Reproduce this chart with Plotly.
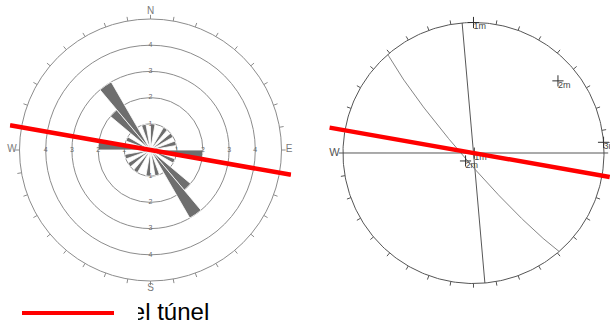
import numpy as np
import plotly.graph_objects as go

# ---------------- data ----------------
# Rose diagram (bidirectional strike frequencies, 10 degree bins)
rose_bin_centers = [5, 35, 55, 75, 95, 115, 135, 145, 165,
                    185, 215, 235, 255, 275, 295, 315, 325, 345]
rose_counts = [1, 1, 1, 1, 2, 1, 2, 3, 1,
               1, 1, 1, 1, 2, 1, 2, 3, 1]
rose_bin_width = 10
rose_ring_values = [1, 2, 3, 4]
rose_outer_value = 5
rose_label_azimuths = [0, 90, 180, 270]
compass_ticks = list(range(0, 360, 10))
rose_compass_az = [0, 90, 180, 270]
rose_compass_text = ["N", "E", "S", "W"]
stereo_compass_az = [0, 180, 270]
stereo_compass_text = ["N", "S", "W"]

# Tunnel axis (trend, degrees) and drawn extent on each diagram
tunnel_trend = 100
tunnel_extent_rose = [5.45, 5.45]        # rose radial units (W end, E end)
tunnel_extent_stereo = [1.12, 1.06]      # stereonet radius units (W end, E end)

# Stereonet planes: dip direction, dip (deg)
plane_dipdir = [265, 229, 0, 10]
plane_dip = [90, 84, 90, 90]
plane_color = ["#444444", "#777777", "#444444", "#555555"]

# Stereonet axes / poles: trend, plunge, label
pole_trend = [0, 49.5, 85.3, 225, 100]
pole_plunge = [0, 16, 0, 83, 89.5]
pole_label = ["1m", "2m", "3i", "2m", "1m"]

legend_text = "del túnel"

# ---------------- helpers ----------------
def great_circle(dipdir, dip, n=181):
    s = np.radians(dipdir - 90)
    dd = np.radians(dipdir)
    d = np.radians(dip)
    S = np.array([np.cos(s), np.sin(s), 0.0])
    D = np.array([np.cos(d) * np.cos(dd), np.cos(d) * np.sin(dd), np.sin(d)])
    phi = np.linspace(0, np.pi, n)
    v = np.outer(np.cos(phi), S) + np.outer(np.sin(phi), D)
    plunge = np.arcsin(np.clip(v[:, 2], -1, 1))
    trend = np.arctan2(v[:, 1], v[:, 0])
    r = np.sqrt(2) * np.sin((np.pi / 2 - plunge) / 2)
    return r * np.sin(trend), r * np.cos(trend)

def ea_xy(trend_deg, plunge_deg):
    t = np.radians(np.asarray(trend_deg, dtype=float))
    p = np.radians(np.asarray(plunge_deg, dtype=float))
    r = np.sqrt(2) * np.sin((np.pi / 2 - p) / 2)
    return r * np.sin(t), r * np.cos(t)

def az_xy(az_deg, r):
    a = np.radians(np.asarray(az_deg, dtype=float))
    r = np.asarray(r, dtype=float)
    return r * np.sin(a), r * np.cos(a)

FONT = "Arial, Liberation Sans, sans-serif"
W, H = 610, 320

fig = go.Figure()

# ---------------- rose diagram (polar) ----------------
fig.add_trace(go.Barpolar(
    r=rose_counts, theta=rose_bin_centers, width=[rose_bin_width] * len(rose_counts),
    marker=dict(color="#6e6e6e", line=dict(color="#ffffff", width=0.8)),
    subplot="polar", hoverinfo="skip", showlegend=False))

# outer ticks every 10 degrees
tk_r, tk_t = [], []
for a in compass_ticks:
    tk_r += [rose_outer_value, rose_outer_value + 0.16, None]
    tk_t += [a, a, None]
fig.add_trace(go.Scatterpolar(
    r=tk_r, theta=tk_t, mode="lines", line=dict(color="#8c8c8c", width=1),
    subplot="polar", hoverinfo="skip", showlegend=False, connectgaps=False))

fig.add_trace(go.Scatterpolar(
    r=[rose_outer_value + 0.29] * len(rose_compass_az), theta=rose_compass_az,
    text=rose_compass_text, mode="text",
    textfont=dict(size=10, color="#7a7a7a", family=FONT),
    subplot="polar", hoverinfo="skip", showlegend=False))

lab_r, lab_t, lab_s = [], [], []
for az in rose_label_azimuths:
    for v in rose_ring_values:
        lab_r.append(v); lab_t.append(az); lab_s.append(str(v))
fig.add_trace(go.Scatterpolar(
    r=lab_r, theta=lab_t, text=lab_s, mode="text",
    textfont=dict(size=7, color="#6a6a6a", family=FONT),
    subplot="polar", hoverinfo="skip", showlegend=False))

fig.add_trace(go.Scatterpolar(
    r=[tunnel_extent_rose[0], 0, tunnel_extent_rose[1]],
    theta=[(tunnel_trend + 180) % 360, tunnel_trend, tunnel_trend],
    mode="lines", line=dict(color="#ff0000", width=4.5),
    subplot="polar", hoverinfo="skip", showlegend=False))

# ---------------- stereonet (cartesian x2/y2, unit circle) ----------------
circ_az = np.arange(0, 361, 1)
cx, cy = az_xy(circ_az, np.ones_like(circ_az, dtype=float))
fig.add_trace(go.Scatter(x=cx, y=cy, mode="lines", line=dict(color="#555555", width=1),
                         xaxis="x2", yaxis="y2", hoverinfo="skip", showlegend=False,
                         cliponaxis=False))

sx, sy = [], []
for a in compass_ticks:
    x0, y0 = az_xy(a, 1.0)
    x1, y1 = az_xy(a, 1.032)
    sx += [float(x0), float(x1), None]
    sy += [float(y0), float(y1), None]
fig.add_trace(go.Scatter(x=sx, y=sy, mode="lines", line=dict(color="#555555", width=1),
                         xaxis="x2", yaxis="y2", hoverinfo="skip", showlegend=False,
                         cliponaxis=False))

lx, ly = az_xy(stereo_compass_az, [1.065] * len(stereo_compass_az))
fig.add_trace(go.Scatter(x=lx, y=ly, text=stereo_compass_text, mode="text",
                         textfont=dict(size=11, color="#555555", family=FONT),
                         xaxis="x2", yaxis="y2", hoverinfo="skip", showlegend=False,
                         cliponaxis=False))

for dd, dp, col in zip(plane_dipdir, plane_dip, plane_color):
    gx, gy = great_circle(dd, dp)
    fig.add_trace(go.Scatter(x=gx, y=gy, mode="lines", line=dict(color=col, width=0.9),
                             xaxis="x2", yaxis="y2", hoverinfo="skip", showlegend=False,
                             cliponaxis=False))

px_, py_ = ea_xy(pole_trend, pole_plunge)
fig.add_trace(go.Scatter(x=px_, y=py_, mode="markers",
                         marker=dict(symbol="cross-thin", size=8,
                                     line=dict(color="#333333", width=1)),
                         xaxis="x2", yaxis="y2", hoverinfo="skip", showlegend=False,
                         cliponaxis=False))
fig.add_trace(go.Scatter(x=px_, y=py_, text=pole_label, mode="text",
                         textposition="bottom right",
                         textfont=dict(size=9, color="#444444", family=FONT),
                         xaxis="x2", yaxis="y2", hoverinfo="skip", showlegend=False,
                         cliponaxis=False))

rx, ry = az_xy([(tunnel_trend + 180) % 360, tunnel_trend], tunnel_extent_stereo)
fig.add_trace(go.Scatter(x=rx, y=ry, mode="lines", line=dict(color="#ff0000", width=4.5),
                         xaxis="x2", yaxis="y2", hoverinfo="skip", showlegend=False,
                         cliponaxis=False))

# ---------------- legend text (clipped on its left, as in the source) ----------------
fig.add_trace(go.Scatter(
    x=[118.5], y=[6], text=[legend_text], mode="text", textposition="middle right",
    textfont=dict(size=24, color="#000000", family=FONT),
    xaxis="x", yaxis="y", hoverinfo="skip", showlegend=False, cliponaxis=True))

# ---------------- layout ----------------
def px_dom_x(a, b):
    return [a / W, b / W]

def px_dom_y(top, bottom):
    return [(H - bottom) / H, (H - top) / H]

rose_cx, rose_cy, rose_R5 = 150.5, 150.0, 131.0
rose_rmax = 5.45
rose_Rpx = rose_R5 * rose_rmax / rose_outer_value

st_cx, st_cy, st_R = 473.5, 153.0, 130.5
st_xr = [-1.13, (W - st_cx) / st_R]
st_yr = [-1.05, 1.05]

fig.update_layout(
    width=W, height=H, autosize=False,
    margin=dict(l=0, r=0, t=0, b=0),
    paper_bgcolor="white", plot_bgcolor="rgba(0,0,0,0)",
    font=dict(family=FONT),
    showlegend=False,
    polar=dict(
        domain=dict(x=px_dom_x(rose_cx - rose_Rpx, rose_cx + rose_Rpx),
                    y=px_dom_y(rose_cy - rose_Rpx, rose_cy + rose_Rpx)),
        bgcolor="rgba(0,0,0,0)", bargap=0,
        radialaxis=dict(range=[0, rose_rmax], tickvals=rose_ring_values + [rose_outer_value],
                        showticklabels=False, ticks="", showline=False, showgrid=True,
                        gridcolor="#8c8c8c", gridwidth=1),
        angularaxis=dict(direction="clockwise", rotation=90,
                         showticklabels=False, ticks="", showline=False, showgrid=False),
    ),
    xaxis=dict(domain=[138 / W, 1], range=[138, W], visible=False, fixedrange=True),
    yaxis=dict(domain=[0, 40 / H], range=[0, 40], visible=False, fixedrange=True),
    xaxis2=dict(domain=px_dom_x(st_cx + st_xr[0] * st_R, st_cx + st_xr[1] * st_R),
                range=st_xr, visible=False, fixedrange=True),
    yaxis2=dict(domain=px_dom_y(st_cy - st_yr[1] * st_R, st_cy - st_yr[0] * st_R),
                range=st_yr, visible=False, fixedrange=True),
    shapes=[dict(type="line", xref="paper", yref="paper",
                 x0=22 / W, x1=114 / W, y0=(H - 313) / H, y1=(H - 313) / H,
                 line=dict(color="#ff0000", width=4))],
)

fig.write_html(
    "out.html",
    config={"displayModeBar": False},
    post_script="document.body.style.margin='0px';document.body.style.overflow='hidden';",
)
